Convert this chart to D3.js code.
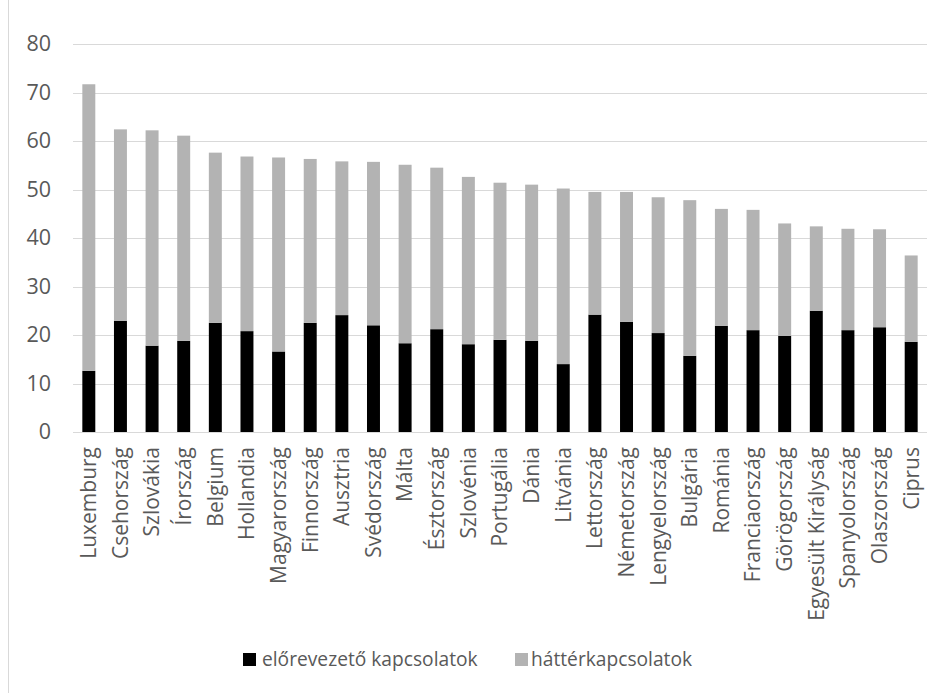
<!DOCTYPE html>
<html>
<head>
<meta charset="utf-8">
<script src="https://cdn.jsdelivr.net/npm/d3@7"></script>
<style>
  html, body { margin: 0; padding: 0; background: #fff; }
  svg { display: block; }
  text { font-family: "Open Sans", sans-serif; fill: #595959; }
</style>
</head>
<body>
<svg id="chart" width="946" height="693"></svg>
<script>
const categories = ["Luxemburg","Csehország","Szlovákia","Írország","Belgium","Hollandia","Magyarország","Finnország","Ausztria","Svédország","Málta","Észtország","Szlovénia","Portugália","Dánia","Litvánia","Lettország","Németország","Lengyelország","Bulgária","Románia","Franciaország","Görögország","Egyesült Királyság","Spanyolország","Olaszország","Ciprus"];
const eloreVezeto = [12.6,22.9,17.8,18.8,22.5,20.8,16.6,22.5,24.1,22.0,18.3,21.2,18.1,19.0,18.8,14.0,24.2,22.7,20.4,15.7,21.9,21.0,19.8,25.0,21.0,21.6,18.6];
const hatter = [59.1,39.5,44.4,42.3,35.1,36.0,40.0,33.8,31.7,33.7,36.8,33.3,34.5,32.4,32.2,36.2,25.3,26.8,28.0,32.1,24.1,24.8,23.2,17.4,20.9,20.2,17.8];
const seriesNames = ["előrevezető kapcsolatok","háttérkapcsolatok"];
const seriesKeys = ["elore","hatter"];
const seriesColors = ["#000000","#b3b3b3"];
const yTicks = [0,10,20,30,40,50,60,70,80];

const svg = d3.select("#chart");

// frame line on the left
svg.append("line").attr("x1",8.5).attr("x2",8.5).attr("y1",0).attr("y2",693)
  .attr("stroke","#d9d9d9").attr("stroke-width",1);

const x = d3.scaleBand().domain(categories).range([73,927]).paddingInner(0.59).paddingOuter(0.295);
const y = d3.scaleLinear().domain([0,80]).range([432,44]);

// gridlines
svg.append("g").selectAll("line").data(yTicks).join("line")
  .attr("x1",73).attr("x2",927)
  .attr("y1",d=>Math.round(y(d))+0.5).attr("y2",d=>Math.round(y(d))+0.5)
  .attr("stroke","#d9d9d9").attr("stroke-width",1);

// y axis labels
const yAxis = d3.axisLeft(y).tickValues(yTicks).tickSize(0).tickPadding(0);
const yg = svg.append("g").attr("transform","translate(51,0)").call(yAxis);
yg.select(".domain").remove();
yg.selectAll("text").attr("font-size",21.5).attr("fill","#595959").style("font-family","'Open Sans', sans-serif");

// stacked data
const table = categories.map((c,i)=>({cat:c, elore:eloreVezeto[i], hatter:hatter[i]}));
const stacked = d3.stack().keys(seriesKeys)(table);

svg.append("g").selectAll("g").data(stacked).join("g")
  .attr("fill",(d,i)=>seriesColors[i])
  .selectAll("rect").data(d=>d).join("rect")
  .attr("x",d=>x(d.data.cat))
  .attr("width",x.bandwidth())
  .attr("y",d=>y(d[1]))
  .attr("height",d=>y(d[0])-y(d[1]));

// x axis labels
const xAxis = d3.axisBottom(x).tickSize(0).tickPadding(0);
const xg = svg.append("g").attr("transform","translate(0,432)").call(xAxis);
xg.select(".domain").remove();
xg.selectAll("text")
  .attr("font-size",21).attr("fill","#595959").style("font-family","'Open Sans', sans-serif")
  .attr("text-anchor","end")
  .attr("transform","translate(0,15) rotate(-90)")
  .attr("x",0).attr("y",0).attr("dy","0.35em");

// legend
const legendX = [243,515];
const lg = svg.append("g").selectAll("g").data(seriesNames).join("g")
  .attr("transform",(d,i)=>`translate(${legendX[i]},0)`);
lg.append("rect").attr("x",0).attr("y",653).attr("width",13).attr("height",13)
  .attr("fill",(d,i)=>seriesColors[i]);
lg.append("text").attr("x",(d,i)=>i===0?19:16).attr("y",666).attr("font-size",19.2).text(d=>d);
</script>
</body>
</html>
